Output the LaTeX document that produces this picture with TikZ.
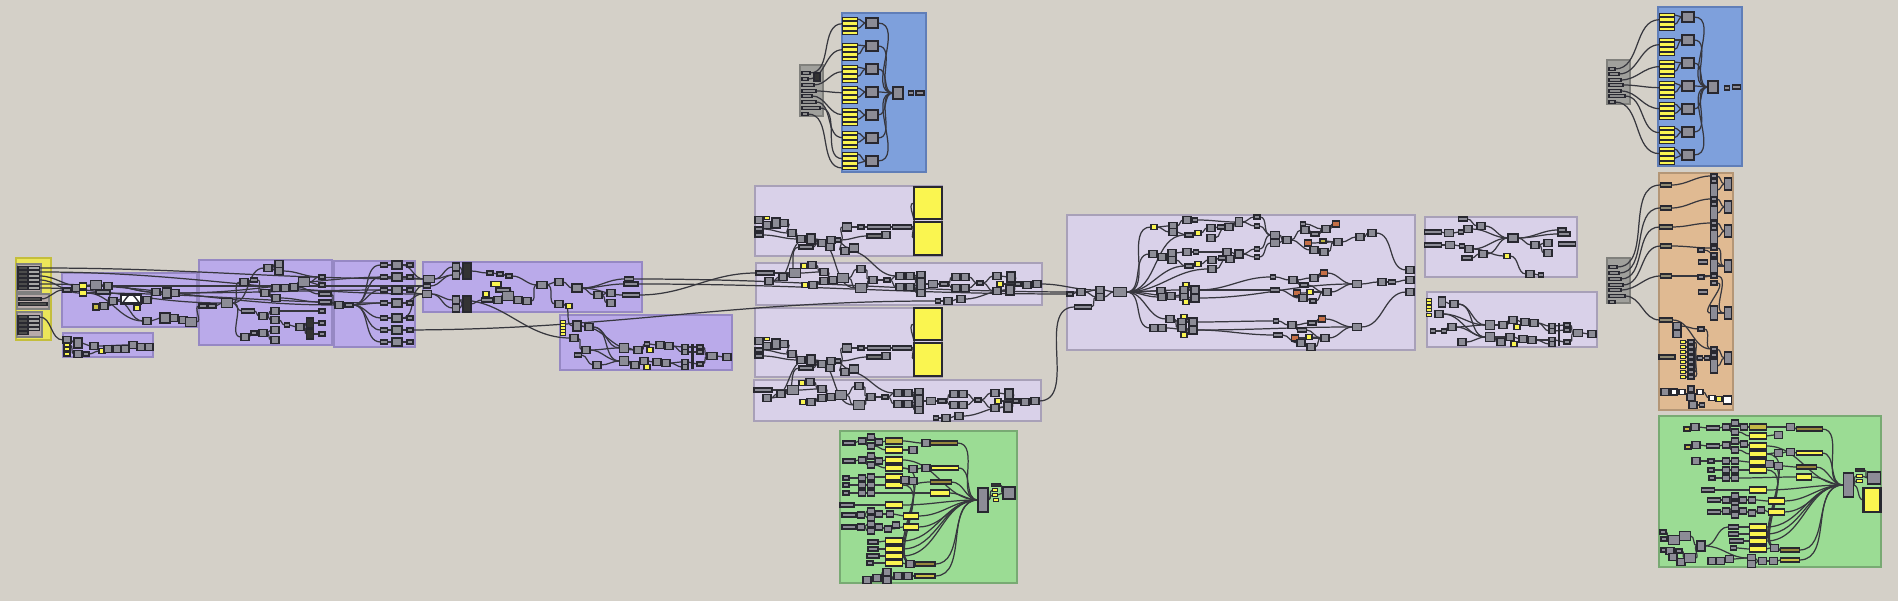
\documentclass[tikz,border=0pt]{standalone}
\usetikzlibrary{fit}
\definecolor{bgc}{RGB}{212,208,200}
\definecolor{pur}{RGB}{186,170,234}
\definecolor{purd}{RGB}{150,136,196}
\definecolor{lav}{RGB}{217,209,233}
\definecolor{lavd}{RGB}{168,160,184}
\definecolor{blu}{RGB}{126,160,220}
\definecolor{blud}{RGB}{96,126,184}
\definecolor{grn}{RGB}{155,220,148}
\definecolor{grnd}{RGB}{120,170,115}
\definecolor{org}{RGB}{224,186,146}
\definecolor{orgd}{RGB}{180,150,118}
\definecolor{ygr}{RGB}{236,230,90}
\definecolor{ygrd}{RGB}{196,190,60}
\definecolor{gpn}{RGB}{160,160,156}
\definecolor{gpnd}{RGB}{128,128,124}
\definecolor{cf}{RGB}{140,140,150}
\definecolor{cbd}{RGB}{40,40,48}
\definecolor{yel}{RGB}{250,245,80}
\definecolor{olv}{RGB}{150,135,60}
\definecolor{rdc}{RGB}{196,110,70}
\definecolor{wir}{RGB}{55,55,62}
\definecolor{pnk}{RGB}{184,170,170}
\pgfdeclarelayer{grp}
\pgfdeclarelayer{wr}
\pgfsetlayers{grp,wr,main}
\tikzset{
 grpbox/.style 2 args={draw=#2, fill=#1, line width=0.45pt, inner sep=0pt},
 base/.style={draw=cbd, line width=0.3pt, inner sep=0pt, outer sep=0pt, rectangle},
 bx/.style 2 args={minimum width=#1*0.1mm, minimum height=#2*0.1mm},
 cp/.style={base, fill=cf, bx={8}{7}},
 cb/.style={base, fill=cf, bx={11}{9}},
 st/.style={base, fill=cf, bx={#1}{4}}, st/.default=8,
 yl/.style={base, fill=yel, bx={6}{5}},
 yp/.style={base, fill=yel, bx={#1}{6}}, yp/.default=17,
 rd/.style={base, fill=rdc, bx={7}{6}},
 wh/.style={base, fill=white, bx={7}{7}},
 bk/.style={base, fill=black!80, bx={8}{16}},
 gs/.style={base, fill=black!45, bx={#1}{3}, anchor=west},
 wire/.style={draw=wir, line width=0.35pt},
}
\newcommand\grp[5]{\node[grpbox={#2}{#3}, fit={(#4) (#5)}] (#1) {};}
\newcommand\gws[1]{\begin{pgfonlayer}{wr}\foreach \wa/\wb in {#1} {\draw[wire] (\wa.east) to[out=0,in=180] (\wb.west);}\end{pgfonlayer}}
\begin{document}
\begin{tikzpicture}[x=0.1mm,y=-0.1mm]
\begin{pgfonlayer}{grp}
\fill[bgc] (0,0) rectangle (1898,601);
\grp{gY}{ygr}{ygrd}{16,258}{51,340}
\grp{gA}{pur}{purd}{62,273}{197,327}
\grp{gA2}{pur}{purd}{63,333}{153,357}
\grp{gB}{pur}{purd}{199,260}{332,345}
\grp{gC}{pur}{purd}{334,261}{415,347}
\grp{gD}{pur}{purd}{423,262}{642,312}
\grp{gE}{pur}{purd}{560,315}{732,370}
\grp{gF}{lav}{lavd}{755,186}{942,256}
\grp{gG}{lav}{lavd}{756,263}{1042,305}
\grp{gH}{lav}{lavd}{755,308}{942,377}
\grp{gK}{lav}{lavd}{754,380}{1041,421}
\grp{gM}{lav}{lavd}{1067,215}{1415,350}
\grp{gN}{lav}{lavd}{1425,217}{1577,277}
\grp{gO}{lav}{lavd}{1427,292}{1597,347}
\grp{gP1}{blu}{blud}{842,13}{926,172}
\grp{gP2}{blu}{blud}{1658,7}{1742,166}
\grp{gR}{org}{orgd}{1659,173}{1733,410}
\grp{gU}{grn}{grnd}{840,431}{1017,583}
\grp{gV}{grn}{grnd}{1659,416}{1881,567}
\grp{pg1}{gpn}{gpnd}{800,65}{823,116}
\grp{pg2}{gpn}{gpnd}{1607,60}{1630,104}
\grp{pg3}{gpn}{gpnd}{1607,258}{1630,303}
\grp{lp1}{pnk}{black!50}{17,264}{41,292}
\grp{lp2}{pnk}{black!50}{17,294}{49,309}
\grp{lp3}{pnk}{black!50}{17,312}{42,337}
\end{pgfonlayer}
\useasboundingbox (0,0) rectangle (1898,601);
% ---------- left yellow group panels
\foreach \i/\yy in {1/268,2/272,3/276,4/280,5/284,6/288}{
 \node[base, fill=black!70, bx={10}{3}] (yd\i) at (23,\yy) {};
 \node[base, fill=black!35, bx={11}{3}] (ys\i) at (34,\yy) {};}
\node[base, fill=black!70, bx={22}{3}] (yq1) at (30,299) {};
\node[base, fill=black!70, bx={28}{3}] (yq2) at (33,304) {};
\foreach \i/\yy in {1/317,2/321,3/325,4/329}{
 \node[base, fill=black!70, bx={10}{3}] (yt\i) at (23,\yy) {};
 \node[base, fill=black!35, bx={11}{3}] (yu\i) at (34,\yy) {};}
\node[base, fill=black!70, bx={10}{3}] (yt5) at (23,333) {};
% ---------- group A
\node[st=8] (a1) at (67,290) {};
\node[cp] (a2) at (76,288) {};
\node[yl, bx={7}{6}] (ya1) at (83,286) {};
\node[yl, bx={7}{6}] (ya2) at (83,293) {};
\node[cb] (a3) at (96,285) {};
\node[st=14] (a4) at (103,292) {};
\node[cp] (a5) at (108,286) {};
\node[cp] (a6) at (113,301) {};
\node[base, fill=olv!50!yel, bx={6}{6}] (a7) at (96,307) {};
\node[cp] (a8) at (104,306) {};
\node[base, fill=white, bx={20}{9}, line width=0.8pt] (gm) at (131,299) {};
\draw[line width=0.4pt, cbd] ([xshift=0.2mm,yshift=0.1mm]gm.south west) .. controls ([yshift=1.2mm]gm.south) .. ([xshift=-0.2mm,yshift=0.1mm]gm.south east);
\node[yl] (a9y) at (137,308) {};
\node[cp] (a9) at (147,300) {};
\node[cp] (a10) at (156,292) {};
\node[cb, bx={9}{10}] (a11) at (167,293) {};
\node[cp] (a12) at (175,293) {};
\node[cp] (a13) at (147,321) {};
\node[cb, bx={10}{10}] (a14) at (165,318) {};
\node[cp] (a15) at (174,318) {};
\node[cp] (a16) at (183,320) {};
\node[cb] (a17) at (191,322) {};
\gws{a1/a2, a2/ya1, ya1/a3, ya2/a4, a3/a5, a4/a6, a6/gm, a8/gm, a7/a8, gm/a9, a9/a10, a10/a11, a11/a12, a5/a10, a6/a13, a13/a14, a14/a15, a15/a16, a16/a17, ya2/a13, a3/a11}
% ---------- group A2
\node[cp] (a2g) at (67,340) {};
\node[yl, bx={6}{4}] (a2y1) at (67,345) {};
\node[yl, bx={6}{4}] (a2y2) at (67,349) {};
\node[yl, bx={6}{4}] (a2y3) at (67,354) {};
\node[cb, bx={8}{10}] (a21) at (78,343) {};
\node[cp] (a22) at (78,354) {};
\node[st=6] (a23) at (86,354) {};
\node[cp] (a24) at (94,346) {};
\node[yl] (a25) at (102,351) {};
\node[cp] (a26) at (108,349) {};
\node[cp] (a27) at (117,349) {};
\node[cp] (a28) at (125,349) {};
\node[cp] (a29) at (133,345) {};
\node[cp] (a30) at (141,347) {};
\node[cp] (a31) at (149,347) {};
\gws{a2g/a21, a21/a24, a24/a29, a29/a30, a30/a31, a22/a23, a23/a25, a25/a26, a26/a27, a27/a28, a2y1/a22}
% ---------- group B
\node[st=8] (b1) at (203,306) {};
\node[st=8] (b2) at (212,306) {};
\node[cb] (b3) at (227,303) {};
\node[cp] (b4) at (244,282) {};
\node[st=7] (b5) at (254,280) {};
\node[cp] (b6) at (265,293) {};
\node[cp] (b7) at (276,288) {};
\node[cp] (b8) at (276,298) {};
\node[cp] (b9) at (285,288) {};
\node[cp] (b10) at (294,287) {};
\node[cb] (b11) at (304,282) {};
\node[cp] (b12) at (268,268) {};
\node[cp] (b13) at (279,264) {};
\node[cp] (b14) at (279,271) {};
\node[st=13] (b15) at (248,311) {};
\node[cp] (b16) at (263,316) {};
\node[cp] (b17) at (275,311) {};
\node[cp] (b18) at (275,320) {};
\node[st=5] (b19) at (287,325) {};
\node[cp] (b20) at (300,327) {};
\node[cp] (b21) at (245,337) {};
\node[st=6] (b22) at (254,333) {};
\node[cp] (b23) at (263,333) {};
\node[cp] (b24) at (275,330) {};
\node[cp] (b25) at (275,340) {};
\node[bk, bx={7}{10}] (b26) at (310,323) {};
\node[bk, bx={7}{10}] (b27) at (310,334) {};
\node[st=6] (b28) at (322,277) {};
\node[st=6] (b29) at (322,285) {};
\node[st=12] (b30) at (325,294) {};
\node[st=12] (b31) at (325,302) {};
\node[st=6] (b32) at (322,311) {};
\node[st=6] (b33) at (322,323) {};
\node[st=6] (b34) at (322,334) {};
\gws{b1/b2, b2/b3, b3/b4, b4/b5, b5/b6, b6/b7, b6/b8, b7/b9, b9/b10, b10/b11, b3/b12, b12/b13, b12/b14, b3/b15, b15/b16, b16/b17, b16/b18, b18/b19, b19/b20, b20/b26, b20/b27, b3/b21, b21/b22, b22/b23, b23/b24, b23/b25, b26/b33, b27/b34, b11/b28, b11/b29, b14/b28, b8/b31, b17/b32, b10/b30, a17/b1}
% ---------- group C
\node[cp] (c1) at (339,305) {};
\node[st=8] (c2) at (349,305) {};
\foreach \i/\yy in {1/265,2/277,3/290,4/303,5/318,6/330,7/342}{
 \node[st=7] (cs\i) at (384,\yy) {};
 \node[cb, bx={10}{8}] (cc\i) at (397,\yy) {};
 \node[st=6] (cr\i) at (410,\yy) {};
 \gws{c2/cs\i, cs\i/cc\i, cc\i/cr\i}}
\gws{c1/c2, b30/c1, b31/c1}
% ---------- group D
\node[cb, bx={11}{7}] (d1) at (429,279) {};
\node[st=7] (d2) at (427,286) {};
\node[cb, bx={9}{7}] (d3) at (427,294) {};
\node[cp, bx={7}{8}] (d4) at (456,267) {};
\node[cp, bx={7}{8}] (d5) at (456,275) {};
\node[bk] (d6) at (467,271) {};
\node[cp, bx={7}{8}] (d7) at (456,300) {};
\node[cp, bx={7}{8}] (d8) at (456,308) {};
\node[bk] (d9) at (467,304) {};
\node[st=6] (d10) at (490,273) {};
\node[st=6] (d11) at (500,274) {};
\node[st=6] (d12) at (509,276) {};
\node[base, fill=yel, bx={10}{5}] (d13) at (496,284) {};
\node[st=14] (d14) at (503,290) {};
\node[yl] (d15) at (486,294) {};
\node[st=11] (d16) at (487,300) {};
\node[cp] (d17) at (498,300) {};
\node[cb] (d18) at (508,296) {};
\node[cp] (d19) at (518,300) {};
\node[cp] (d20) at (527,301) {};
\node[cb, bx={10}{7}] (d21) at (542,285) {};
\node[cp] (d22) at (559,282) {};
\node[cb, bx={10}{8}] (d23) at (577,288) {};
\node[cp] (d24) at (559,304) {};
\node[yl] (d25) at (569,306) {};
\node[cp] (d26) at (598,295) {};
\node[cp] (d27) at (611,293) {};
\node[cp] (d28) at (611,303) {};
\node[st=9] (d29) at (629,279) {};
\node[st=14] (d30) at (631,284) {};
\node[st=17] (d31) at (631,295) {};
\gws{d1/d4, d1/d5, d3/d7, d3/d8, d4/d6, d5/d6, d7/d9, d8/d9, d6/d10, d10/d11, d11/d12, d12/d21, d9/d16, d16/d17, d17/d18, d18/d19, d19/d20, d20/d21, d21/d22, d22/d23, d21/d24, d24/d25, d23/d26, d26/d27, d26/d28, d23/d29, d23/d30, d23/d31, d2/d5, d14/d18, cc1/d1, cc2/d1, cc3/d3, cc4/d3, cc5/d2}
% ---------- group E
\foreach \i/\yy in {1/322,2/325,3/328,4/331,5/334}{\node[yl, bx={5}{3}] (ey\i) at (563,\yy) {};}
\node[cb, bx={8}{10}] (e1) at (577,326) {};
\node[cp] (e2) at (589,327) {};
\node[cp] (e3) at (574,338) {};
\node[cp] (e4) at (586,350) {};
\node[st=7] (e5) at (578,355) {};
\node[cb, bx={9}{9}] (e6) at (624,348) {};
\node[cb, bx={9}{9}] (e7) at (624,361) {};
\node[cp] (e8) at (638,350) {};
\node[st=5] (e9) at (647,344) {};
\node[yl] (e10) at (650,350) {};
\node[cp] (e11) at (660,345) {};
\node[cp] (e12) at (669,346) {};
\node[cp] (e13) at (635,365) {};
\node[cp] (e14) at (644,361) {};
\node[yl] (e15) at (647,367) {};
\node[cp] (e16) at (657,362) {};
\node[cp] (e17) at (666,363) {};
\node[cp] (e18) at (597,365) {};
\node[cp, bx={6}{5}] (e19) at (685,347) {};
\node[cp, bx={6}{5}] (e20) at (685,352) {};
\node[st=6] (e21) at (700,347) {};
\node[st=6] (e22) at (700,352) {};
\node[cp, bx={6}{5}] (e23) at (685,362) {};
\node[cp, bx={6}{5}] (e24) at (685,367) {};
\node[st=6] (e25) at (700,364) {};
\node[cb, bx={10}{7}] (e26) at (712,356) {};
\node[cp] (e27) at (727,357) {};
\draw[line width=0.7pt, cbd] ([xshift=0.45mm]e19.north east) -- ([xshift=0.45mm]e24.south east);
\gws{e1/e2, e2/e6, e3/e4, e4/e6, e4/e7, e5/e18, e18/e7, e6/e8, e8/e9, e9/e11, e11/e12, e7/e13, e13/e14, e14/e16, e16/e17, e12/e19, e12/e20, e17/e23, e17/e24, e19/e21, e20/e22, e23/e25, e21/e26, e25/e26, e26/e27, e2/e7, e1/e8, d24/e1, d7/e3}
% ---------- groups F and H
\foreach \g/\dy in {f/0,h/121}{
 \node[cp] (\g1) at (759,{220+\dy}) {};
 \node[yl, bx={5}{3}] (\g2) at (767,{218+\dy}) {};
 \node[cp] (\g3) at (767,{225+\dy}) {};
 \node[cb, bx={8}{10}] (\g4) at (776,{223+\dy}) {};
 \node[cp] (\g5) at (784,{223+\dy}) {};
 \node[st=8] (\g6) at (759,{229+\dy}) {};
 \node[st=8] (\g7) at (759,{235+\dy}) {};
 \node[cp] (\g8) at (792,{233+\dy}) {};
 \node[cp] (\g9) at (801,{239+\dy}) {};
 \node[cb, bx={8}{10}] (\g10) at (811,{239+\dy}) {};
 \node[cp] (\g11) at (822,{243+\dy}) {};
 \node[cp] (\g12) at (831,{240+\dy}) {};
 \node[st=5] (\g13) at (838,{240+\dy}) {};
 \node[cp] (\g14) at (830,{247+\dy}) {};
 \node[st=14] (\g15) at (806,{247+\dy}) {};
 \node[cp] (\g16) at (845,{251+\dy}) {};
 \node[cb, bx={9}{8}] (\g17) at (854,{248+\dy}) {};
 \node[cb, bx={9}{8}] (\g18) at (847,{227+\dy}) {};
 \node[st=6] (\g19) at (861,{227+\dy}) {};
 \node[st=23] (\g20) at (879,{227+\dy}) {};
 \node[st=19] (\g21) at (902,{227+\dy}) {};
 \node[base, fill=black!55, bx={20}{4}] (\g22) at (877,{236+\dy}) {};
 \node[cp] (\g23) at (886,{235+\dy}) {};
 \node[base, fill=yel, line width=0.7pt, bx={28}{32}] (\g24) at (928,{203+\dy}) {};
 \node[base, fill=yel, line width=0.7pt, bx={28}{33}] (\g25) at (928,{238.5+\dy}) {};
 \gws{\g1/\g3, \g3/\g4, \g4/\g5, \g5/\g8, \g6/\g8, \g7/\g9, \g8/\g9, \g9/\g10, \g10/\g11, \g11/\g12, \g12/\g13, \g10/\g14, \g15/\g11, \g13/\g18, \g13/\g16, \g12/\g17, \g18/\g19, \g19/\g20, \g20/\g21, \g21/\g24, \g21/\g25, \g22/\g23, \g13/\g22}
}
% ---------- groups G and K
\foreach \g/\dx/\dy in {g/0/0,k/-2/117}{
 \node[st=18] (\g1) at ({765+\dx},{273+\dy}) {};
 \node[cp] (\g2) at ({769+\dx},{281+\dy}) {};
 \node[cp] (\g3) at ({783+\dx},{277+\dy}) {};
 \node[cb] (\g4) at ({795+\dx},{273+\dy}) {};
 \node[yl] (\g5) at ({804+\dx},{266+\dy}) {};
 \node[cp] (\g6) at ({812+\dx},{265+\dy}) {};
 \node[cp] (\g7) at ({824+\dx},{272+\dy}) {};
 \node[cp] (\g8) at ({824+\dx},{281+\dy}) {};
 \node[cp] (\g9) at ({833+\dx},{280+\dy}) {};
 \node[cb] (\g10) at ({843+\dx},{278+\dy}) {};
 \node[cp] (\g11) at ({861+\dx},{269+\dy}) {};
 \node[cb] (\g12) at ({861+\dx},{288+\dy}) {};
 \node[cp] (\g13) at ({873+\dx},{280+\dy}) {};
 \node[st=6] (\g14) at ({887+\dx},{280+\dy}) {};
 \node[cp] (\g15) at ({900+\dx},{276+\dy}) {};
 \node[cp] (\g16) at ({910+\dx},{276+\dy}) {};
 \node[cp] (\g17) at ({900+\dx},{287+\dy}) {};
 \node[cp] (\g18) at ({910+\dx},{287+\dy}) {};
 \node[cp] (\g19) at ({921+\dx},{275+\dy}) {};
 \node[cb, bx={8}{12}] (\g20) at ({921+\dx},{284+\dy}) {};
 \node[cp] (\g21) at ({921+\dx},{293+\dy}) {};
 \node[cb, bx={9}{7}] (\g22) at ({933+\dx},{284+\dy}) {};
 \node[st=8] (\g23) at ({944+\dx},{284+\dy}) {};
 \node[cp] (\g24) at ({956+\dx},{277+\dy}) {};
 \node[cp] (\g25) at ({965+\dx},{277+\dy}) {};
 \node[cp] (\g26) at ({956+\dx},{288+\dy}) {};
 \node[cp] (\g27) at ({965+\dx},{288+\dy}) {};
 \node[st=6] (\g28) at ({980+\dx},{283+\dy}) {};
 \node[cp] (\g29) at ({997+\dx},{276+\dy}) {};
 \node[cb, bx={8}{10}] (\g30) at ({1011+\dx},{277+\dy}) {};
 \node[cp] (\g31) at ({997+\dx},{291+\dy}) {};
 \node[cb, bx={8}{10}] (\g32) at ({1010+\dx},{290+\dy}) {};
 \node[yl] (\g33) at ({1000+\dx},{284+\dy}) {};
 \node[st=6] (\g34) at ({1018+\dx},{284+\dy}) {};
 \node[cp] (\g35) at ({1027+\dx},{285+\dy}) {};
 \node[cp] (\g36) at ({1037+\dx},{284+\dy}) {};
 \node[yl] (\g37) at ({805+\dx},{285+\dy}) {};
 \node[cp] (\g38) at ({813+\dx},{285+\dy}) {};
 \node[st=5] (\g39) at ({938+\dx},{301+\dy}) {};
 \node[cp] (\g40) at ({948+\dx},{301+\dy}) {};
 \node[cp] (\g41) at ({961+\dx},{299+\dy}) {};
 \gws{\g1/\g4, \g2/\g3, \g3/\g4, \g4/\g7, \g5/\g6, \g6/\g7, \g7/\g9, \g8/\g9, \g9/\g10, \g10/\g11, \g10/\g12, \g37/\g38, \g38/\g8, \g11/\g13, \g12/\g13, \g13/\g14, \g14/\g15, \g14/\g17, \g15/\g16, \g17/\g18, \g16/\g19, \g16/\g20, \g18/\g20, \g18/\g21, \g20/\g22, \g22/\g23, \g23/\g24, \g23/\g26, \g24/\g25, \g26/\g27, \g25/\g28, \g27/\g28, \g28/\g29, \g28/\g31, \g29/\g30, \g31/\g32, \g30/\g34, \g32/\g34, \g33/\g34, \g34/\g35, \g35/\g36, \g39/\g40, \g40/\g41, \g41/\g32}
}
\gws{g2/f10, g3/f15, f16/g15, f10/g12, k2/h10, k3/h15, h16/k15, h10/k12, d31/g1, cc6/g39}
% ---------- big group M
\node[st=6] (m1) at (1070,294) {};
\node[cp] (m2) at (1081,292) {};
\node[cp] (m3) at (1100,290) {};
\node[cp] (m4) at (1100,297) {};
\node[st=17] (m5) at (1083,307) {};
\node[cb, bx={13}{9}] (m6) at (1120,292) {};
\node[yl] (m7) at (1154,227) {};
\node[cp] (m8) at (1173,226) {};
\node[cp] (m9) at (1173,232) {};
\node[cp] (m10) at (1187,220) {};
\node[st=5] (m11) at (1195,220) {};
\node[st=8] (m12) at (1189,235) {};
\node[yl] (m13) at (1198,233) {};
\node[cp] (m14) at (1211,228) {};
\node[cp] (m15) at (1211,238) {};
\node[st=7] (m16) at (1221,227) {};
\node[cp] (m17) at (1229,227) {};
\node[cb, bx={7}{9}] (m18) at (1239,222) {};
\node[st=6] (m19) at (1257,217) {};
\node[st=5] (m20) at (1257,226) {};
\node[cb, bx={9}{7}] (m21) at (1275,235) {};
\node[cb, bx={9}{7}] (m22) at (1275,243) {};
\node[cp] (m23) at (1287,240) {};
\node[st=5] (m24) at (1303,224) {};
\node[cp] (m25) at (1305,230) {};
\node[st=8] (m26) at (1315,234) {};
\node[rd] (m27) at (1308,243) {};
\node[base, fill=olv!60!yel, bx={6}{4}] (m28) at (1323,241) {};
\node[cp] (m29) at (1326,229) {};
\node[rd] (m30) at (1336,224) {};
\node[cp] (m31) at (1338,242) {};
\node[cp] (m32) at (1360,237) {};
\node[cp] (m33) at (1372,233) {};
\node[cp] (m34) at (1314,250) {};
\node[cp] (m35) at (1324,252) {};
\node[cp] (m36) at (1153,254) {};
\node[cp] (m37) at (1162,257) {};
\node[cp] (m38) at (1172,253) {};
\node[cp] (m39) at (1172,260) {};
\node[cp] (m40) at (1187,252) {};
\node[st=5] (m41) at (1196,252) {};
\node[st=8] (m42) at (1189,266) {};
\node[yl] (m43) at (1198,264) {};
\node[cp] (m44) at (1212,260) {};
\node[cp] (m45) at (1212,269) {};
\node[st=7] (m46) at (1222,258) {};
\node[cp] (m47) at (1227,252) {};
\node[cp] (m48) at (1230,259) {};
\node[cb, bx={8}{8}] (m49) at (1239,254) {};
\node[st=5] (m50) at (1257,249) {};
\node[st=5] (m51) at (1257,257) {};
\node[yl] (m52) at (1186,285) {};
\node[cp] (m53) at (1161,291) {};
\node[cp] (m54) at (1162,297) {};
\node[cp] (m55) at (1171,296) {};
\node[cp] (m56) at (1184,290) {};
\node[cp] (m57) at (1184,297) {};
\node[yl] (m58) at (1186,302) {};
\node[cb, bx={8}{8}] (m59) at (1195,290) {};
\node[cb, bx={8}{8}] (m60) at (1195,298) {};
\node[st=5] (m61) at (1273,277) {};
\node[cp] (m62) at (1293,280) {};
\node[cp] (m63) at (1314,278) {};
\node[rd] (m64) at (1324,273) {};
\node[st=8] (m65) at (1304,285) {};
\node[st=9] (m66) at (1275,290) {};
\node[rd] (m67) at (1297,293) {};
\node[yl] (m68) at (1310,292) {};
\node[cp] (m69) at (1303,298) {};
\node[st=6] (m70) at (1313,301) {};
\node[cp] (m71) at (1327,292) {};
\node[cb, bx={9}{7}] (m72) at (1357,284) {};
\node[cp] (m73) at (1382,282) {};
\node[st=7] (m74) at (1392,282) {};
\node[cp] (m75) at (1170,319) {};
\node[yl] (m76) at (1184,317) {};
\node[cp] (m77) at (1182,322) {};
\node[cp] (m78) at (1182,328) {};
\node[cb, bx={8}{8}] (m79) at (1193,322) {};
\node[cb, bx={8}{8}] (m80) at (1193,330) {};
\node[yl] (m81) at (1184,335) {};
\node[cp] (m82) at (1154,328) {};
\node[cp] (m83) at (1162,328) {};
\node[st=5] (m84) at (1276,321) {};
\node[cp] (m85) at (1292,325) {};
\node[st=8] (m86) at (1312,323) {};
\node[rd] (m87) at (1322,319) {};
\node[st=9] (m88) at (1302,330) {};
\node[st=9] (m89) at (1278,335) {};
\node[rd] (m90) at (1295,338) {};
\node[yl] (m91) at (1309,337) {};
\node[cp] (m92) at (1325,338) {};
\node[cp] (m93) at (1301,343) {};
\node[cp] (m94) at (1311,347) {};
\node[cb, bx={9}{7}] (m95) at (1357,327) {};
\node[cp] (m96) at (1410,270) {};
\node[cp] (m97) at (1410,280) {};
\node[cp] (m98) at (1410,292) {};
\gws{m1/m2, m2/m3, m2/m4, m3/m6, m4/m6, m5/m4, m6/m7, m7/m8, m7/m9, m8/m10, m10/m11, m9/m12, m12/m13, m13/m14, m11/m18, m14/m16, m16/m17, m17/m18, m15/m17, m18/m19, m18/m20, m20/m21, m19/m21, m21/m23, m22/m23, m23/m25, m25/m26, m26/m29, m24/m29, m29/m30, m27/m31, m28/m31, m31/m32, m32/m33, m33/m96, m23/m34, m34/m35, m35/m31, m6/m36, m36/m37, m37/m38, m37/m39, m38/m40, m40/m41, m39/m42, m42/m43, m43/m44, m41/m47, m44/m46, m46/m48, m47/m49, m48/m49, m45/m48, m49/m50, m49/m51, m50/m21, m51/m22, m6/m45, m6/m53, m6/m54, m6/m56, m6/m57, m53/m55, m54/m55, m55/m59, m56/m59, m57/m60, m52/m59, m58/m60, m59/m61, m59/m66, m61/m62, m62/m63, m63/m64, m62/m65, m65/m71, m66/m69, m67/m71, m68/m71, m69/m70, m70/m71, m71/m72, m64/m72, m72/m73, m73/m74, m74/m97, m60/m72, m6/m75, m6/m82, m82/m83, m83/m80, m75/m77, m75/m78, m77/m79, m78/m80, m76/m79, m81/m80, m79/m84, m80/m89, m84/m85, m85/m86, m86/m87, m85/m88, m88/m92, m89/m93, m93/m94, m90/m92, m91/m92, m94/m92, m92/m95, m87/m95, m80/m95, m95/m98, m6/m12, m6/m42, d30/m1, d29/m2, g36/m3, k36/m5}
% ---------- group N
\node[st=9] (n1) at (1463,219) {};
\node[cp] (n2) at (1481,226) {};
\node[st=17] (n3) at (1433,232) {};
\node[cb, bx={9}{7}] (n4) at (1449,233) {};
\node[st=5] (n5) at (1461,232) {};
\node[cp] (n6) at (1468,229) {};
\node[st=17] (n7) at (1433,245) {};
\node[cb, bx={9}{7}] (n8) at (1450,245) {};
\node[st=5] (n9) at (1462,246) {};
\node[cp] (n10) at (1469,249) {};
\node[cp] (n11) at (1483,254) {};
\node[st=10] (n12) at (1467,258) {};
\node[cb, bx={10}{8}] (n13) at (1513,238) {};
\node[yl] (n14) at (1507,256) {};
\node[cp] (n15) at (1535,245) {};
\node[cp] (n16) at (1548,243) {};
\node[cp] (n17) at (1548,253) {};
\node[st=8] (n18) at (1562,230) {};
\node[st=12] (n19) at (1564,234) {};
\node[st=17] (n20) at (1567,244) {};
\node[cp] (n21) at (1530,274) {};
\node[st=5] (n22) at (1541,275) {};
\gws{n1/n2, n2/n13, n3/n4, n4/n5, n5/n6, n6/n13, n7/n8, n8/n9, n9/n10, n10/n13, n12/n11, n11/n13, n13/n15, n15/n16, n15/n17, n13/n18, n13/n19, n14/n21, n21/n22, n10/n14}
% ---------- group O
\foreach \i/\yy in {1/300,2/303,3/307,4/310,5/315}{\node[yl, bx={5}{3}] (oy\i) at (1429,\yy) {};}
\node[cb, bx={7}{10}] (o1) at (1442,302) {};
\node[cp] (o2) at (1454,304) {};
\node[cp] (o3) at (1439,314) {};
\node[st=5] (o4) at (1433,331) {};
\node[st=5] (o5) at (1444,331) {};
\node[cp] (o6) at (1452,327) {};
\node[cp] (o7) at (1462,342) {};
\node[cb, bx={9}{9}] (o8) at (1490,325) {};
\node[cb, bx={9}{9}] (o9) at (1490,337) {};
\node[cp] (o10) at (1503,325) {};
\node[cp] (o11) at (1513,320) {};
\node[yl] (o12) at (1517,327) {};
\node[cp] (o13) at (1525,322) {};
\node[cp] (o14) at (1534,323) {};
\node[cp] (o15) at (1501,342) {};
\node[cp] (o16) at (1510,337) {};
\node[yl] (o17) at (1514,344) {};
\node[cp] (o18) at (1523,339) {};
\node[cp] (o19) at (1532,340) {};
\node[cp, bx={6}{5}] (o20) at (1552,326) {};
\node[cp, bx={6}{5}] (o21) at (1552,331) {};
\node[st=6] (o22) at (1567,325) {};
\node[st=6] (o23) at (1567,330) {};
\node[cp, bx={6}{5}] (o24) at (1552,340) {};
\node[cp, bx={6}{5}] (o25) at (1552,344) {};
\node[st=6] (o26) at (1567,342) {};
\node[cb, bx={9}{7}] (o27) at (1578,333) {};
\node[cp] (o28) at (1592,334) {};
\draw[line width=0.7pt, cbd] ([xshift=0.4mm]o20.north east) -- ([xshift=0.4mm]o25.south east);
\gws{o1/o2, o2/o8, o3/o8, o2/o9, o4/o5, o5/o6, o6/o8, o6/o9, o7/o9, o8/o10, o10/o11, o11/o13, o13/o14, o9/o15, o9/o16, o16/o18, o18/o19, o14/o20, o14/o21, o19/o24, o19/o25, o20/o22, o21/o23, o24/o26, o22/o27, o26/o27, o27/o28, o3/o9}
% ---------- blue groups
\foreach \k/\yy/\w in {0/73/8,1/79/6,2/85/12,3/91/14,4/96/10,5/102/14,6/108/18,7/114/6}{\node[gs=\w] (pa\k) at (802,\yy) {};}
\node[base, fill=black!80, bx={6}{8}] (pai) at (817,77) {};
\foreach \i/\yy in {0/19,1/45,2/67,3/88,4/110,5/133,6/154}{
 \foreach \j in {0,...,3}{\node[base, fill=yel, bx={15}{3.5}] (py\i\j) at (850,{\yy+4.7*\j}) {};}
 \node[cb, bx={12}{10}] (pc\i) at (872,{23+23*\i}) {};
}
\node[cb, bx={10}{12}] (pm) at (898,93) {};
\node[st=5] (ps1) at (911,93) {};
\node[st=8] (ps2) at (920,93) {};
\foreach \i in {0,...,6}{\gws{py\i0/pc\i, py\i2/pc\i, pc\i/pm, pa\i/py\i1}}
\gws{pa7/py63}
\foreach \k/\yy/\w in {0/69/6,1/74/10,2/80/12,3/85/14,4/91/12,5/96/16,6/102/6}{\node[gs=\w] (qa\k) at (1609,\yy) {};}
\foreach \i/\yy in {0/15,1/40,2/62,3/83,4/104,5/128,6/149}{
 \foreach \j in {0,...,3}{\node[base, fill=yel, bx={15}{3.5}] (qy\i\j) at (1667,{\yy+4.7*\j}) {};}
 \node[cb, bx={12}{10}] (qc\i) at (1688,{17+23*\i}) {};
}
\node[cb, bx={10}{12}] (qm) at (1713,87) {};
\node[st=5] (qs1) at (1727,88) {};
\node[st=8] (qs2) at (1736,87) {};
\foreach \i in {0,...,6}{\gws{qy\i0/qc\i, qy\i2/qc\i, qc\i/qm, qa\i/qy\i1}}
% ---------- orange group
\foreach \k/\yy/\w in {0/267/8,1/273/10,2/279/12,3/285/14,4/290/12,5/296/16,6/302/6}{\node[gs=\w] (ra\k) at (1609,\yy) {};}
\foreach \i/\yy/\w in {1/185/11,2/208/11,3/227/13,4/246/11,5/276/11,6/320/13}{\node[base, fill=cf!60!olv, bx={\w}{4}] (rl\i) at (1666,\yy) {};}
\foreach \i/\yy in {1/176,2/199,3/223}{
 \node[cp, bx={6}{4}] (rp\i) at (1714,\yy) {};
 \node[cp, bx={6}{4}] (rq\i) at (1714,{\yy+5}) {};
 \node[cb, bx={7}{14}] (rc\i) at (1714,{\yy+14}) {};
 \node[cb, bx={7}{12}] (rk\i) at (1728,{\yy+8}) {};
 \gws{rp\i/rk\i, rc\i/rk\i}}
\node[cp, bx={6}{4}] (rp4) at (1714,248) {};
\node[cp, bx={6}{4}] (rq4) at (1714,255) {};
\node[cb, bx={7}{14}] (rc4) at (1714,266) {};
\node[cb, bx={7}{12}] (rk4) at (1728,266) {};
\node[st=6] (rs4a) at (1701,250) {};
\node[st=9] (rs4b) at (1703,262) {};
\node[cp, bx={6}{4}] (rp5) at (1714,276) {};
\node[cp, bx={6}{4}] (rq5) at (1714,283) {};
\node[st=6] (rs5a) at (1701,277) {};
\node[st=9] (rs5b) at (1703,292) {};
\node[cb, bx={7}{14}] (rc5) at (1714,313) {};
\node[cb, bx={7}{12}] (rk5) at (1728,313) {};
\node[cp, bx={6}{4}] (rp6) at (1714,349) {};
\node[cp, bx={6}{4}] (rq6) at (1714,355) {};
\node[cb, bx={7}{14}] (rc6) at (1714,366) {};
\node[cb, bx={7}{12}] (rk6) at (1728,358) {};
\node[cp, bx={8}{7}] (rm1) at (1677,326) {};
\node[cp, bx={8}{7}] (rm2) at (1677,334) {};
\node[st=6] (rm3) at (1701,329) {};
\node[base, fill=cf!60!olv, bx={16}{4}] (rl7) at (1667,357) {};
\node[st=5] (rt1) at (1700,358) {};
\node[st=5] (rt2) at (1707,358) {};
\foreach \k/\yy in {1/342,2/347,3/352,4/357,5/362,6/367,7/372,8/377}{
 \node[yl, bx={5}{3}] (ry\k) at (1683,\yy) {};
 \node[cp, bx={6}{4}] (rcc\k) at (1691,\yy) {};
 \gws{ry\k/rcc\k, rcc\k/rt1}}
\node[cp] (rb1) at (1665,392) {};
\node[wh, bx={6}{6}] (rb2) at (1674,392) {};
\node[wh, bx={6}{5}] (rb3) at (1682,392) {};
\node[cp, bx={6}{6}] (rb4) at (1691,389) {};
\node[cp] (rb5) at (1691,397) {};
\node[wh, bx={6}{5}] (rb6) at (1700,392) {};
\node[st=5] (rb7) at (1702,405) {};
\node[cp] (rb8) at (1693,405) {};
\node[wh, bx={6}{5}] (rb9) at (1712,398) {};
\node[yl] (rb10) at (1719,399) {};
\node[wh, bx={8}{8}] (rb11) at (1727,400) {};
\gws{ra0/rl1, ra1/rl2, ra2/rl3, ra3/rl4, ra4/rl5, ra5/rl6, rl1/rp1, rl2/rp2, rl3/rp3, rl4/rp4, rl5/rp5, rl6/rp6, rs4a/rk4, rp4/rk4, rc4/rk4, rs5a/rp5, rp5/rk5, rc5/rk5, rq5/rc5, rm1/rm3, rm3/rp6, rt1/rt2, rt2/rq6, rp6/rk6, rc6/rk6, rb8/rb7, rb6/rb9, rb9/rb10, rb10/rb11}
% ---------- green group U
\node[cb, bx={10}{24}] (um) at (983,500) {};
\node[base, fill=black!80, bx={9}{3}] (uo) at (996,485) {};
\node[base, fill=yel, bx={5}{3}] (uy1) at (995,490) {};
\node[base, fill=yel, bx={5}{3}] (uy2) at (995,495) {};
\node[base, fill=yel, bx={5}{3}] (uy3) at (996,500) {};
\node[cb, bx={12}{12}] (ub) at (1009,493) {};
\node[yp, fill=olv!55!yel] (uY1) at (894,441) {};
\node[yp] (uY2) at (894,450) {};
\node[yp] (uY3) at (894,460) {};
\node[yp] (uY4) at (894,468) {};
\node[yp] (uY5) at (894,477) {};
\node[yp] (uY6) at (894,485) {};
\node[yp] (uY7) at (894,505) {};
\node[yp=15] (uY8) at (911,516) {};
\node[yp=15] (uY9) at (911,527) {};
\node[yp] (uY10) at (894,541) {};
\node[yp] (uY11) at (894,549) {};
\node[yp] (uY12) at (894,556) {};
\node[yp] (uY13) at (894,563) {};
\node[base, fill=olv, bx={27}{4}] (uL1) at (944,443) {};
\node[base, fill=yel, bx={27}{4}] (uL2) at (945,468) {};
\node[base, fill=olv, bx={21}{4}] (uL3) at (941,482) {};
\node[base, fill=yel, bx={19}{6}] (uL4) at (940,493) {};
\node[base, fill=olv, bx={20}{4}] (uL5) at (925,564) {};
\node[base, fill=olv!50!yel, bx={20}{4}] (uL6) at (925,576) {};
\node[cp] (uc1) at (926,443) {};
\node[cp] (uc2) at (913,450) {};
\node[cp] (uc3) at (913,469) {};
\node[cp] (uc4) at (926,468) {};
\node[cp] (uc5) at (905,480) {};
\node[cp] (uc6) at (913,481) {};
\node[cp] (uc7) at (910,564) {};
\node[st=12] (us1) at (849,443) {};
\node[st=12] (us2) at (849,461) {};
\node[st=6] (us3) at (846,478) {};
\node[st=6] (us4) at (846,485) {};
\node[st=6] (us5) at (846,493) {};
\node[st=14] (us6) at (847,505) {};
\node[st=14] (us7) at (849,515) {};
\node[st=14] (us8) at (849,527) {};
\node[st=10] (us9) at (873,542) {};
\node[st=10] (us10) at (873,549) {};
\node[st=12] (us11) at (873,556) {};
\node[st=6] (us12) at (870,563) {};
\foreach \k/\xx/\yy in {1/862/441,2/871/437,3/871/446,4/879/442,5/862/460,6/871/456,7/871/465,8/879/461,9/862/478,10/871/477,11/862/485,12/871/485,13/862/493,14/871/493,15/861/515,16/871/511,17/871/518,18/879/514,19/890/514,20/861/527,21/871/524,22/871/531,23/879/527,24/888/529,25/896/525}{\node[cp, bx={7}{6}] (uk\k) at (\xx,\yy) {};}
\foreach \k/\xx/\yy in {1/867/580,2/877/578,3/887/572,4/887/580,5/898/576,6/908/576}{\node[cp] (ub\k) at (\xx,\yy) {};}
\gws{us1/uk1, uk1/uk2, uk1/uk3, uk2/uk4, uk4/uY1, uk3/uY2, us2/uk5, uk5/uk6, uk5/uk7, uk6/uk8, uk8/uY3, uk7/uY4, us3/uk9, uk9/uk10, uk10/uY5, us4/uk11, uk11/uk12, uk12/uY6, us5/uk13, uk13/uk14, uk14/uL4, us6/uY7, us7/uk15, uk15/uk16, uk15/uk17, uk16/uk18, uk18/uk19, uk19/uY8, us8/uk20, uk20/uk21, uk20/uk22, uk21/uk23, uk23/uk24, uk24/uY9, us9/uY10, us10/uY11, us11/uY12, us12/uY13, uY1/uc1, uc1/uL1, uY2/uc2, uY4/uc3, uc3/uc4, uc4/uL2, uY5/uc5, uc5/uc6, uY6/uL3, uY13/uc7, uc7/uL5, ub1/ub2, ub2/ub3, ub2/ub4, ub4/ub5, ub5/ub6, ub6/uL6, uY5/uL5, uY6/uL5, uY4/uL5, uL1/um, uL2/um, uL3/um, uL4/um, uY3/um, uY7/um, uY8/um, uY9/um, uY10/um, uY11/um, uY12/um, uL5/um, uL6/um, um/uy1, um/uy2, uy2/ub, uo/ub}
% ---------- green group V
\node[cb, bx={10}{24}] (vm) at (1848,485) {};
\node[base, fill=yel, line width=0.7pt, bx={17}{24}] (vP) at (1872,500) {};
\node[cb, bx={13}{12}] (vb) at (1874,478) {};
\node[base, fill=black!80, bx={9}{3}] (vo) at (1860,470) {};
\node[base, fill=yel, bx={6}{3}] (vy1) at (1859,476) {};
\node[base, fill=yel, bx={6}{3}] (vy2) at (1859,481) {};
\node[yp, fill=olv!55!yel] (vY1) at (1758,427) {};
\node[yp] (vY2) at (1758,436) {};
\node[yp] (vY3) at (1758,446) {};
\node[yp] (vY4) at (1758,454) {};
\node[yp] (vY5) at (1758,462) {};
\node[yp] (vY6) at (1758,470) {};
\node[yp] (vY7) at (1758,490) {};
\node[yp=16] (vY8) at (1776,501) {};
\node[yp=16] (vY9) at (1776,512) {};
\node[yp] (vY10) at (1758,527) {};
\node[yp] (vY11) at (1758,534) {};
\node[yp] (vY12) at (1758,541) {};
\node[yp] (vY13) at (1758,549) {};
\node[base, fill=olv, bx={26}{4}] (vL1) at (1809,429) {};
\node[base, fill=yel, bx={26}{4}] (vL2) at (1809,453) {};
\node[base, fill=olv, bx={20}{4}] (vL3) at (1806,467) {};
\node[base, fill=yel, bx={15}{6}] (vL4) at (1804,477) {};
\node[base, fill=olv, bx={19}{4}] (vL5) at (1790,550) {};
\node[base, fill=olv!50!yel, bx={19}{4}] (vL6) at (1790,560) {};
\node[cp] (vc1) at (1790,427) {};
\node[cp] (vc2) at (1778,435) {};
\node[cp] (vc3) at (1778,453) {};
\node[cp] (vc4) at (1790,452) {};
\node[cp] (vc5) at (1769,464) {};
\node[cp] (vc6) at (1778,466) {};
\node[cp] (vc7) at (1774,548) {};
\node[st=13] (vs1) at (1713,428) {};
\node[st=13] (vs2) at (1713,446) {};
\node[st=6] (vs3) at (1711,461) {};
\node[st=6] (vs4) at (1711,470) {};
\node[st=6] (vs5) at (1712,478) {};
\node[st=13] (vs6) at (1708,490) {};
\node[st=13] (vs7) at (1714,500) {};
\node[st=13] (vs8) at (1714,512) {};
\node[st=10] (vs9) at (1733,527) {};
\node[st=10] (vs10) at (1733,534) {};
\node[st=14] (vs11) at (1736,541) {};
\node[st=6] (vs12) at (1733,548) {};
\foreach \k/\xx/\yy in {1/1726/427,2/1735/423,3/1735/432,4/1744/427,5/1726/445,6/1735/441,7/1735/450,8/1744/444,9/1726/461,10/1735/461,11/1726/470,12/1735/470,13/1726/478,14/1735/478,15/1726/500,16/1735/496,17/1735/504,18/1743/500,19/1752/500,20/1726/511,21/1735/508,22/1735/515,23/1743/511,24/1752/513,25/1761/510}{\node[cp, bx={7}{6}] (vk\k) at (\xx,\yy) {};}
\node[cp] (vf1) at (1695,427) {};
\node[base, fill=olv!50!yel, bx={6}{4}] (vf2) at (1687,429) {};
\node[cp] (vf3) at (1696,445) {};
\node[base, fill=olv!50!yel, bx={6}{4}] (vf4) at (1688,447) {};
\node[cp] (vf5) at (1696,461) {};
\node[st=6] (vl1) at (1663,532) {};
\node[st=6] (vl2) at (1664,539) {};
\node[cb] (vl3) at (1674,540) {};
\node[cb] (vl4) at (1685,536) {};
\node[st=6] (vl5) at (1664,550) {};
\node[cp] (vl6) at (1670,551) {};
\node[st=6] (vl7) at (1679,551) {};
\node[cp] (vl8) at (1673,557) {};
\node[cp] (vl9) at (1681,562) {};
\node[cb] (vl10) at (1690,558) {};
\node[cb, bx={8}{10}] (vl11) at (1701,546) {};
\node[cp] (vl12) at (1712,561) {};
\node[cp] (vl13) at (1720,561) {};
\node[cp] (vl14) at (1729,559) {};
\node[cp] (vl15) at (1751,558) {};
\node[cp] (vl16) at (1751,564) {};
\node[cp] (vl17) at (1762,561) {};
\node[cp] (vl18) at (1773,561) {};
\gws{vf2/vf1, vf1/vs1, vs1/vk1, vk1/vk2, vk1/vk3, vk2/vk4, vk4/vY1, vk3/vY2, vf4/vf3, vf3/vs2, vs2/vk5, vk5/vk6, vk5/vk7, vk6/vk8, vk8/vY3, vk7/vY4, vf5/vs3, vs3/vk9, vk9/vk10, vk10/vY5, vs4/vk11, vk11/vk12, vk12/vY6, vs5/vk13, vk13/vk14, vk14/vL4, vs6/vY7, vs7/vk15, vk15/vk16, vk15/vk17, vk16/vk18, vk18/vk19, vk19/vY8, vs8/vk20, vk20/vk21, vk20/vk22, vk21/vk23, vk23/vk24, vk24/vk25, vk25/vY9, vs9/vY10, vs10/vY11, vs11/vY12, vs12/vY13, vY1/vc1, vc1/vL1, vY2/vc2, vY4/vc3, vc3/vc4, vc4/vL2, vY5/vc5, vc5/vc6, vc6/vL3, vY13/vc7, vc7/vL5, vY5/vL5, vY6/vL5, vY4/vL5, vl1/vl3, vl2/vl3, vl3/vl4, vl4/vl11, vl5/vl6, vl6/vl7, vl7/vl10, vl8/vl9, vl9/vl10, vl10/vl11, vl11/vs9, vl11/vl15, vl12/vl13, vl13/vl14, vl14/vl15, vl15/vl17, vl16/vl17, vl17/vl18, vl18/vL6, vL1/vm, vL2/vm, vL3/vm, vL4/vm, vY3/vm, vY7/vm, vY8/vm, vY9/vm, vY10/vm, vY11/vm, vY12/vm, vL5/vm, vL6/vm, vm/vy1, vm/vy2, vy1/vb, vo/vb, vm/vP}
% ---------- long wires from the left
\gws{ys1/d1, ys2/d3, ys3/ya1, ys4/ya2, ys5/c1, ys6/b3, yq1/a1, ya1/d2, a11/cc3, a12/cc2, ya2/cs4, yu1/a2g}
\end{tikzpicture}
\end{document}
